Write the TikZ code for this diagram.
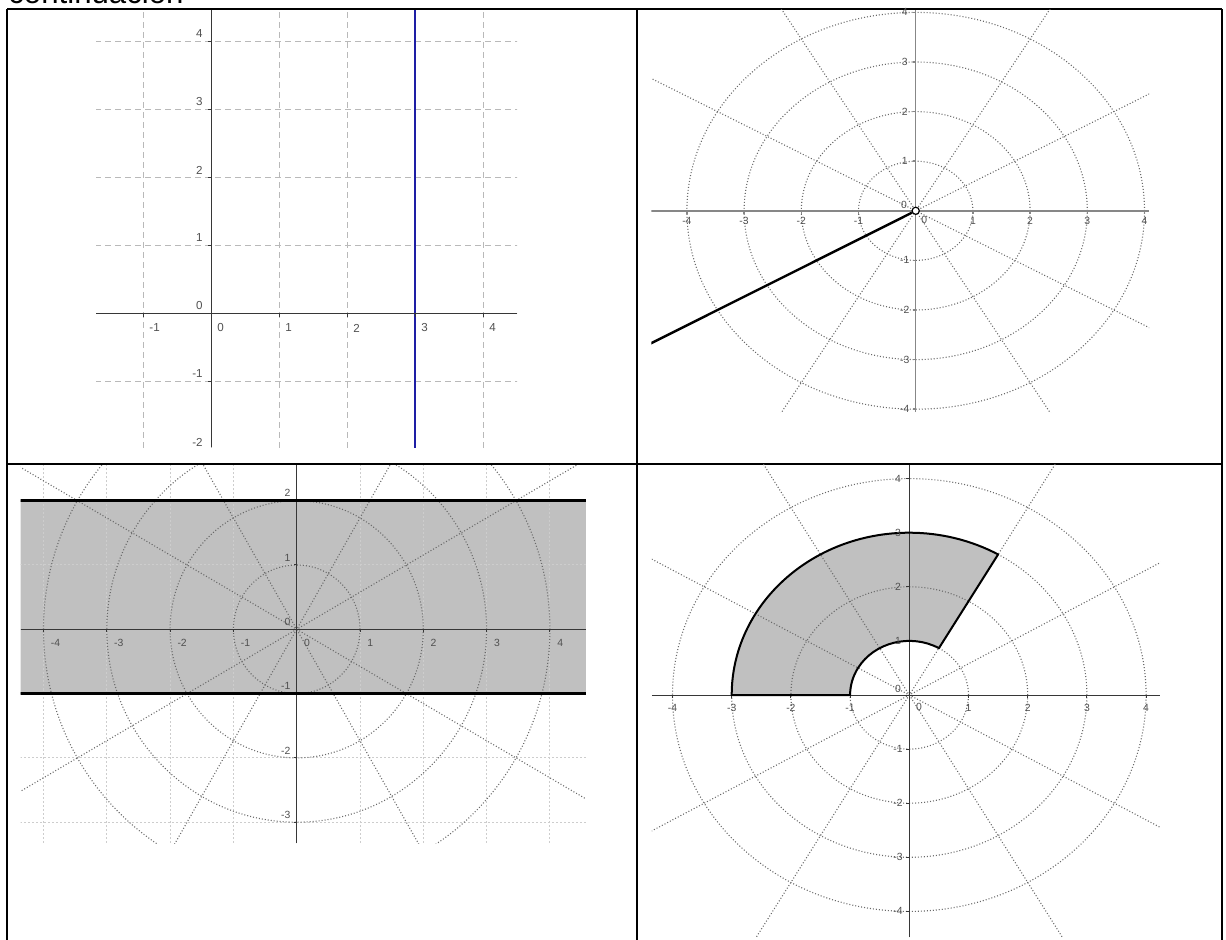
\documentclass[tikz,border=0pt]{standalone}
\usepackage{fontspec}
\setmainfont{Liberation Sans}
\usetikzlibrary{calc}
\definecolor{shd}{RGB}{192,192,192}
\definecolor{grd}{RGB}{185,185,185}
\definecolor{pgr}{RGB}{105,105,105}
\definecolor{sqg}{RGB}{205,205,205}
\definecolor{axc}{RGB}{55,55,55}
\definecolor{axg}{RGB}{135,135,135}
\definecolor{labc}{RGB}{80,80,80}
\definecolor{lnb}{RGB}{30,30,165}

\begin{document}
\begin{tikzpicture}[x=0.5pt,y=-0.5pt,
  tbl/.style={line width=1pt},
  ax/.style={draw=axc,line width=0.5pt},
  axl/.style={draw=axg,line width=0.75pt},
  dgrid/.style={draw=grd,line width=0.5pt,dash pattern=on 3pt off 2pt},
  pgrid/.style={draw=pgr,line width=0.55pt,dash pattern=on 0.5pt off 1pt},
  sqgrid/.style={draw=sqg,line width=0.5pt,dash pattern=on 1pt off 1pt},
  lab/.style={inner sep=0pt,text=labc,font=\fontsize{5.2}{6}\selectfont},
  tlab/.style={font=\fontsize{5.8}{6}\selectfont}]
\useasboundingbox (0,0) rectangle (1226,940);
\node[anchor=base west,inner sep=0pt,font=\fontsize{15.6}{18}\selectfont] (cont) at (8,3.5) {continuación};
\draw[tbl] (7,9.5) -- (1222,9.5) (7,464) -- (1222,464)
  (7,9.5) -- (7,940) (637,9.5) -- (637,940) (1222,9.5) -- (1222,940);

% x = 3
\begin{scope}[shift={(211,314)},x=34pt,y=34pt]
  \begin{scope}
    \clip (-1.69,-1.96) rectangle (4.5,4.47);
    \foreach \i in {-1,...,4} \draw[dgrid] (\i,-3) -- (\i,5) (-2,\i) -- (5,\i);
    \draw[draw=lnb,line width=1.2pt] (3,-3) -- (3,5);
  \end{scope}
  \draw[ax] (-1.69,0) -- (4.5,0) (0,-1.96) -- (0,4.47);
  \foreach \i in {-1,1,2,3,4} \draw[ax] (\i,0) -- ++(0pt,-1.5pt) (0,\i) -- ++(-1.5pt,0pt);
  \foreach \i [count=\k] in {-1,...,4}
    \node[lab,tlab,anchor=west,xshift=3pt,yshift=-7pt] (tlx\k) at (\i,0) {\i};
  \foreach \i [count=\k] in {-2,...,4}
    \node[lab,tlab,anchor=east,xshift=-4pt,yshift=4pt] (tly\k) at (0,\i) {\i};
\end{scope}

% theta = 7pi/6
\begin{scope}[shift={(915.7,210.8)},x=28.6pt,y=24.8pt]
  \begin{scope}
    \clip (-4.62,-4.06) rectangle (4.08,4.05);
    \foreach \r in {1,...,4} \draw[pgrid] (0,0) circle[radius=\r];
    \foreach \a in {30,60,120,150} \draw[pgrid] (\a:-7) -- (\a:7);
    \draw[axl] (-4.62,0) -- (4.08,0) (0,-4.06) -- (0,4.05);
    \foreach \i in {-4,-3,-2,-1,1,2,3,4} \draw[axl] (\i,0) -- ++(0pt,-1.5pt) (0,\i) -- ++(-1.5pt,0pt);
    \coordinate (rayend) at (210:7);
    \node[circle,draw,fill=white,line width=0.6pt,inner sep=0pt,minimum size=3.6pt] (p0) at (0,0) {};
    \draw[line width=1.2pt] (p0) -- (rayend);
  \end{scope}
  \foreach \i [count=\k] in {-4,-3,-2,-1,1,2,3,4} {
    \node[lab,yshift=-5pt] (trx\k) at (\i,0) {\i};
    \node[lab,xshift=-5.5pt] (try\k) at (0,\i) {\i};
  }
  \node[lab,xshift=-5.8pt,yshift=3pt] (tro1) at (0,0) {0};
  \node[lab,xshift=4.3pt,yshift=-4.8pt] (tro2) at (0,0) {0};
\end{scope}

% -1 < y < 2
\begin{scope}[shift={(296.7,629.3)},x=31.65pt,y=32.15pt]
  \begin{scope}
    \clip (-4.36,-3.33) rectangle (4.57,2.555);
    \fill[shd] (-5,-1) rectangle (5,2);
    \foreach \i in {-4,...,4} \draw[sqgrid] (\i,-4) -- (\i,3);
    \foreach \i in {-3,...,2} \draw[sqgrid] (-5,\i) -- (5,\i);
    \foreach \r in {1,...,4} \draw[pgrid] (0,0) circle[radius=\r];
    \foreach \a in {30,60,120,150} \draw[pgrid] (\a:-7) -- (\a:7);
    \draw[ax] (-4.36,0) -- (4.57,0) (0,-3.33) -- (0,2.555);
    \foreach \i in {-4,-3,-2,-1,1,2,3,4} \draw[ax] (\i,0) -- ++(0pt,-1.5pt);
    \foreach \i in {-3,-2,-1,1,2} \draw[ax] (0,\i) -- ++(-1.5pt,0pt);
    \draw[line width=1.5pt] (-5,2) -- (5,2) (-5,-1) -- (5,-1);
  \end{scope}
  \foreach \i [count=\k] in {-4,...,4}
    \node[lab,anchor=west,xshift=3.5pt,yshift=-7pt] (blx\k) at (\i,0) {\i};
  \foreach \i [count=\k] in {-3,...,2}
    \node[lab,anchor=east,xshift=-3pt,yshift=3.7pt] (bly\k) at (0,\i) {\i};
\end{scope}

% 1 < r < 3, pi/3 < theta < pi
\begin{scope}[shift={(909.3,695)},x=29.6pt,y=27.05pt]
  \begin{scope}
    \clip (-4.35,-4.48) rectangle (4.24,4.26);
    \fill[shd] (180:3) arc[start angle=180,end angle=60,radius=3] -- (60:1)
      arc[start angle=60,end angle=180,radius=1] -- cycle;
    \foreach \r in {1,...,4} \draw[pgrid] (0,0) circle[radius=\r];
    \foreach \a in {30,60,120,150} \draw[pgrid] (\a:-7) -- (\a:7);
    \draw[ax] (-4.35,0) -- (4.24,0) (0,-4.48) -- (0,4.26);
    \foreach \i in {-4,-3,-2,-1,1,2,3,4} \draw[ax] (\i,0) -- ++(0pt,-1.5pt) (0,\i) -- ++(-1.5pt,0pt);
    \draw[line width=1pt,line join=round] (180:3) arc[start angle=180,end angle=60,radius=3] -- (60:1)
      arc[start angle=60,end angle=180,radius=1] -- cycle;
  \end{scope}
  \foreach \i [count=\k] in {-4,-3,-2,-1,1,2,3,4} {
    \node[lab,yshift=-6.3pt] (brx\k) at (\i,0) {\i};
    \node[lab,xshift=-5.7pt] (bry\k) at (0,\i) {\i};
  }
  \node[lab,xshift=-5.7pt,yshift=3pt] (bro1) at (0,0) {0};
  \node[lab,xshift=4.8pt,yshift=-6pt] (bro2) at (0,0) {0};
\end{scope}
\end{tikzpicture}
\end{document}
